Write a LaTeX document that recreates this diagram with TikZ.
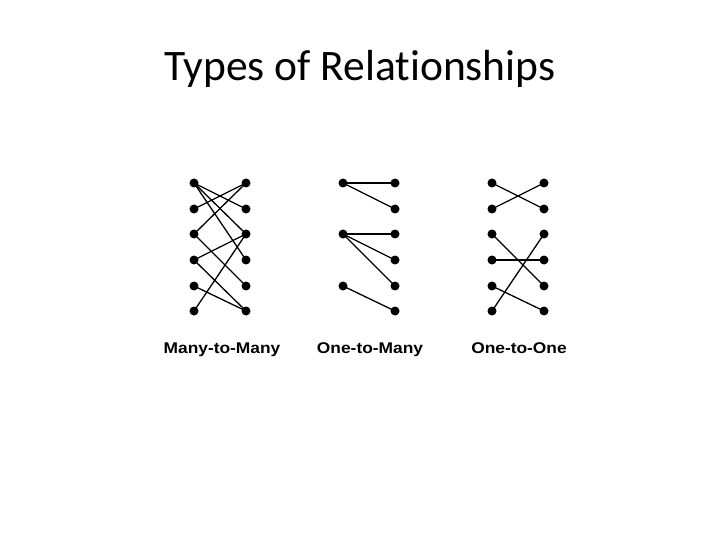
\documentclass[tikz,border=0pt]{standalone}
\usepackage{fontspec}
\setmainfont[Ligatures=NoCommon]{Carlito}
\newfontfamily\labfont[FakeStretch=1.12]{Liberation Sans}
\begin{document}
\begin{tikzpicture}[x=1pt,y=-1pt,
  dot/.style={circle,fill=black,inner sep=0pt,minimum size=9pt},
  link/.style={line width=1.3pt,black},
  lab/.style={font=\labfont\bfseries\fontsize{15.5}{17}\selectfont,inner sep=0pt,anchor=base}]
\useasboundingbox (0,0) rectangle (720,540);
\node[font=\fontsize{43.5}{48}\selectfont,anchor=base,inner sep=0pt] (title) at (360,81) {Types of Relationships};
% Many-to-Many
\foreach \i/\y in {1/183,2/209,3/234,4/260,5/286,6/311}{
  \node[dot] (ml\i) at (194,\y) {};
  \node[dot] (mr\i) at (246,\y) {};
}
\foreach \a/\b in {1/2,1/3,1/4,2/1,3/1,3/5,4/3,4/6,5/6,6/3}{
  \draw[link] (ml\a.center) -- (mr\b.center);
}
% One-to-Many
\foreach \i/\y in {1/183,3/234,5/286}{
  \node[dot] (ol\i) at (343,\y) {};
}
\foreach \i/\y in {1/183,2/209,3/234,4/260,5/286,6/311}{
  \node[dot] (or\i) at (395,\y) {};
}
\foreach \a/\b in {1/1,1/2,3/3,3/4,3/5,5/6}{
  \draw[link] (ol\a.center) -- (or\b.center);
}
% One-to-One
\foreach \i/\y in {1/183,2/209,3/234,4/260,5/286,6/311}{
  \node[dot] (el\i) at (492,\y) {};
  \node[dot] (er\i) at (544,\y) {};
}
\foreach \a/\b in {1/2,2/1,3/5,4/4,5/6,6/3}{
  \draw[link] (el\a.center) -- (er\b.center);
}
\node[lab] (l1) at (222,353) {Many-to-Many};
\node[lab] (l2) at (370,353) {One-to-Many};
\node[lab] (l3) at (519,353) {One-to-One};
\end{tikzpicture}
\end{document}
